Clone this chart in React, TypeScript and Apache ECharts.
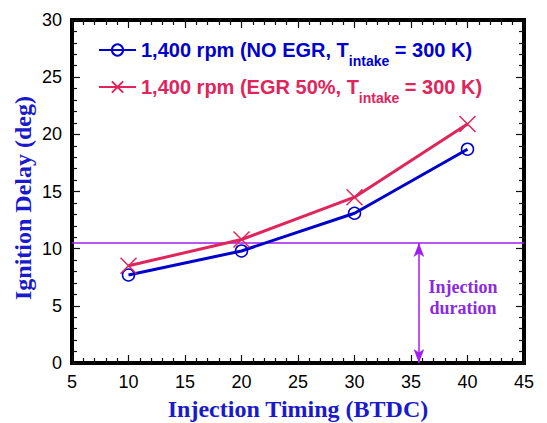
import React, { useEffect, useRef } from 'react';
import * as echarts from 'echarts';

// ---- data ----
const injectionTiming = [10, 20, 30, 40];
const delayNoEgr = [7.7, 9.8, 13.1, 18.7];
const delayEgr50 = [8.5, 10.8, 14.5, 20.9];
const durationLevel = 10.5;
const durationArrowX = 35.7;
const xRange = [5, 45];
const xInterval = 5;
const yRange = [0, 30];
const yInterval = 5;
const seriesNames = ['NO EGR', 'EGR 50%'];
const legendMain = ['1,400 rpm (NO EGR, T', '1,400 rpm (EGR 50%, T'];
const legendSub = 'intake';
const legendTail = ' = 300 K)';
const annotationLines = ['Injection', 'duration'];
const xTitle = 'Injection Timing (BTDC)';
const yTitle = 'Ignition Delay (deg)';

const BLUE = '#0000cc';
const RED = '#e0245c';
const PURPLE = '#a01ef0';
const TITLE_BLUE = '#1a1acc';

export default function App() {
  const ref = useRef<HTMLDivElement>(null);
  useEffect(() => {
    if (!ref.current) return;
    const chart = echarts.init(ref.current, null, { renderer: 'svg' });

    const axisLine = { show: true, onZero: false, lineStyle: { color: '#000', width: 4, cap: 'square' } };
    const axisTick = { show: true, inside: true, length: 8, lineStyle: { color: '#111', width: 1.2 } };
    const minorTick = { show: true, splitNumber: 5, length: 5, lineStyle: { color: '#111', width: 1.2 } };
    const labelStyle = { fontFamily: 'Liberation Sans', fontSize: 18, color: '#000' };
    const nameStyle = { fontFamily: 'Liberation Serif', fontWeight: 'bold', fontSize: 24, color: TITLE_BLUE };

    const mkRich = (color: string) => ({
      m: { fontFamily: 'Liberation Sans', fontWeight: 'bold', fontSize: 20, color, lineHeight: 22 },
      s: { fontFamily: 'Liberation Sans', fontWeight: 'bold', fontSize: 14, color, padding: [22, 0, 0, 0] },
    });
    const legendFor = (idx: number, top: number, color: string) => ({
      data: [seriesNames[idx]],
      orient: 'vertical',
      left: 98,
      top,
      padding: 0,
      itemWidth: 37,
      itemHeight: 14,
      selectedMode: false,
      formatter: () => `{m|${legendMain[idx]}}{s|${legendSub}}{m|${legendTail}}`,
      textStyle: { rich: mkRich(color) },
    });

    chart.setOption({
      animation: false,
      backgroundColor: '#fff',
      grid: { left: 72, right: 23, top: 20, bottom: 60, containLabel: false, outerBoundsMode: 'none' },
      legend: [legendFor(0, 40, BLUE), legendFor(1, 77, RED)],
      xAxis: [
        {
          type: 'value', min: xRange[0], max: xRange[1], interval: xInterval, position: 'bottom',
          axisLine, axisTick, minorTick, splitLine: { show: false },
          axisLabel: { ...labelStyle, margin: 10, showMinLabel: true, showMaxLabel: true },
          name: xTitle, nameLocation: 'middle', nameGap: 34, nameTextStyle: nameStyle,
        },
        {
          type: 'value', min: xRange[0], max: xRange[1], interval: xInterval, position: 'top',
          axisLine, axisTick, minorTick, splitLine: { show: false }, axisLabel: { show: false },
        },
      ],
      yAxis: [
        {
          type: 'value', min: yRange[0], max: yRange[1], interval: yInterval, position: 'left',
          axisLine, axisTick, minorTick, splitLine: { show: false },
          axisLabel: { ...labelStyle, margin: 10, showMinLabel: true, showMaxLabel: true },
        },
        {
          type: 'value', min: yRange[0], max: yRange[1], interval: yInterval, position: 'right',
          axisLine, axisTick, minorTick, splitLine: { show: false }, axisLabel: { show: false },
        },
      ],
      series: [
        {
          name: 'duration',
          type: 'line',
          data: [[xRange[0], durationLevel], [xRange[1], durationLevel]],
          symbol: 'none',
          silent: true,
          lineStyle: { color: PURPLE, width: 1.5 },
          z: 1,
          markLine: {
            silent: true,
            symbol: ['arrow', 'arrow'],
            symbolSize: [8, 14],
            label: { show: false },
            lineStyle: { color: PURPLE, width: 1.5, type: 'solid' },
            emphasis: { disabled: true },
            data: [[{ coord: [durationArrowX, durationLevel] }, { coord: [durationArrowX, yRange[0]] }]],
          },
        },
        {
          name: seriesNames[0],
          type: 'line',
          color: BLUE,
          data: injectionTiming.map((x, i) => [x, delayNoEgr[i]]),
          symbol: 'circle',
          symbolSize: 12,
          itemStyle: { color: 'rgba(0,0,0,0)', borderColor: BLUE, borderWidth: 1.5 },
          lineStyle: { color: BLUE, width: 3 },
          z: 3,
        },
        {
          name: seriesNames[1],
          type: 'line',
          color: RED,
          data: injectionTiming.map((x, i) => [x, delayEgr50[i]]),
          symbol: 'path://M0 0L20 20M20 0L0 20',
          symbolSize: 16,
          itemStyle: { color: 'rgba(0,0,0,0)', borderColor: RED, borderWidth: 1.5 },
          lineStyle: { color: RED, width: 3 },
          z: 3,
        },
      ],
      graphic: [
        {
          type: 'text',
          x: 23,
          y: 198,
          rotation: Math.PI / 2,
          silent: true,
          style: {
            text: yTitle,
            ...nameStyle,
            fill: TITLE_BLUE,
            align: 'center',
            verticalAlign: 'middle',
          },
        },
        {
          type: 'text',
          x: 463,
          y: 297,
          silent: true,
          style: {
            text: annotationLines.join('\n'),
            fontFamily: 'Liberation Serif',
            fontWeight: 'bold',
            fontSize: 18,
            lineHeight: 21,
            fill: '#8a2be2',
            align: 'center',
            verticalAlign: 'middle',
          },
        },
      ],
    });
    return () => chart.dispose();
  }, []);
  return (
    <div
      ref={ref}
      style={{ position: 'fixed', left: 0, top: 0, width: 547, height: 423 }}
    />
  );
}
